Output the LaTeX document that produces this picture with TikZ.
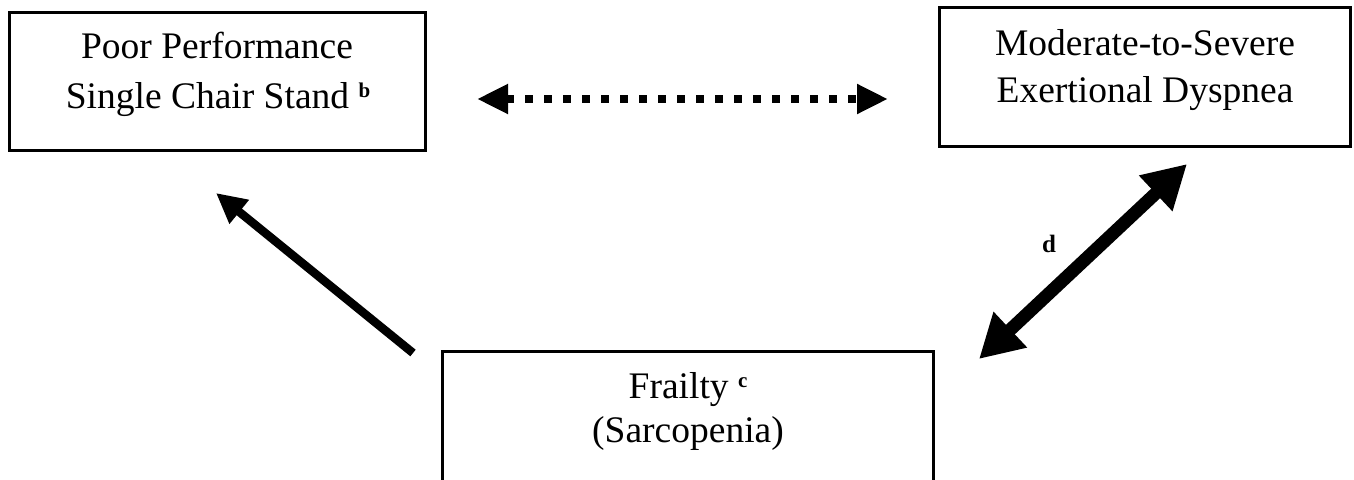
\documentclass[tikz,border=0pt]{standalone}
\usepackage{fontspec}
\setmainfont{Liberation Serif}
\usetikzlibrary{arrows.meta}
\tikzset{
  box/.style={draw=black, line width=3pt, rectangle, inner sep=0pt, fill=none},
  txt/.style={anchor=base, inner sep=0pt, font=\fontsize{37.5}{45}\selectfont},
  lbl/.style={anchor=base, inner sep=0pt, font=\fontsize{25}{25}\selectfont\bfseries},
  dotarrow/.style={line width=8pt, dash pattern=on 8pt off 11pt, {Triangle[length=31pt,width=28pt]}-{Triangle[length=31pt,width=28pt]}},
  onearrow/.style={line width=8.5pt, -{Triangle[length=30pt,width=29pt]}},
  twoarrow/.style={line width=13pt, {Triangle[length=43pt,width=46pt]}-{Triangle[length=43pt,width=46pt]}}
}
\newcommand{\supmark}[1]{\raisebox{11pt}{\fontsize{21}{21}\selectfont\bfseries #1}}
\begin{document}
\begin{tikzpicture}[x=1pt,y=-1pt]
\useasboundingbox (0,0) rectangle (1354,479);
\clip (0,0) rectangle (1354,479);
\fill[white] (0,0) rectangle (1354,479);
% boxes
\node[box, minimum width=416pt, minimum height=138pt] (chair) at (217,81) {};
\node[box, minimum width=411pt, minimum height=139pt] (dysp) at (1144.5,76.5) {};
\node[box, minimum width=491pt, minimum height=160pt] (frail) at (687.5,431) {};
% texts
\node[txt] (chair1) at (217,58) {Poor Performance};
\node[txt] (chair2) at (218,108) {Single Chair Stand \supmark{b}};
\node[txt] (dysp1) at (1145,55) {Moderate-to-Severe};
\node[txt] (dysp2) at (1145,102) {Exertional Dyspnea};
\node[txt] (frail1) at (688,398) {Frailty \supmark{c}};
\node[txt] (frail2) at (688,442) {(Sarcopenia)};
% arrow ends
\coordinate (dA) at (477,99);
\coordinate (dB) at (888,99);
\coordinate (sA) at (413,353);
\coordinate (sB) at (216,193);
\coordinate (tA) at (979,359);
\coordinate (tB) at (1187,164);
\draw[dotarrow] (dA) -- (dB);
\draw[onearrow] (sA) -- (sB);
\draw[twoarrow] (tA) -- (tB);
\node[lbl] (dlabel) at (1049,252) {d};
\end{tikzpicture}
\end{document}
